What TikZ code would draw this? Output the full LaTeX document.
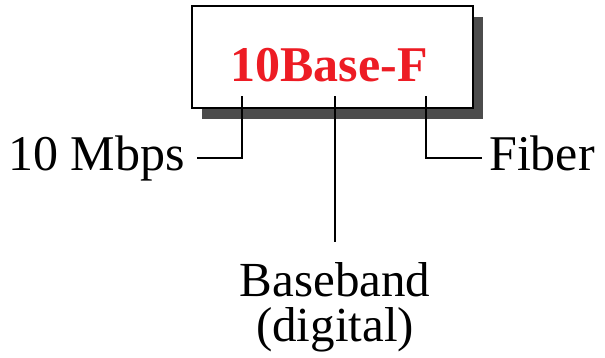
\documentclass[tikz,border=0pt]{standalone}
\usepackage{fontspec}
\setmainfont{Liberation Serif}
\usetikzlibrary{shadows,positioning}
\definecolor{titlered}{RGB}{237,28,36}
\tikzset{
  namebox/.style={draw, line width=2.7pt, fill=white, inner sep=0pt,
    minimum width=281pt, minimum height=102pt,
    drop shadow={shadow xshift=10pt, shadow yshift=-11pt, fill=black!70, opacity=1}},
  part/.style={font=\fontsize{50}{45}\selectfont, inner ysep=0pt,
    text height=24pt, text depth=0pt},
  lead/.style={line width=2.5pt}
}
\begin{document}
\begin{tikzpicture}[x=1pt,y=-1pt]
  \useasboundingbox (0,0) rectangle (605,357);
  \node[namebox] (box) at (332.5,57) {};
  \node[font=\fontsize{50}{56}\selectfont\bfseries, text=titlered, anchor=base] (name) at (329,81) {10Base-F};
  % where the leads leave the box
  \coordinate (rate) at (242,96);
  \coordinate (band) at (335,96);
  \coordinate (medium) at (426,96);
  \node[part, anchor=east, inner xsep=12pt] (mbps) at (197,158) {10 Mbps};
  \node[part, anchor=west, inner xsep=7pt] (fiber) at (482,158) {Fiber};
  \node[font=\fontsize{49}{45}\selectfont, align=center, anchor=north, inner ysep=20pt] (baseband) at (335,242) {Baseband\\(digital)};
  \draw[lead] (rate) |- (mbps);
  \draw[lead] (band) -- (baseband);
  \draw[lead] (medium) |- (fiber);
\end{tikzpicture}
\end{document}
